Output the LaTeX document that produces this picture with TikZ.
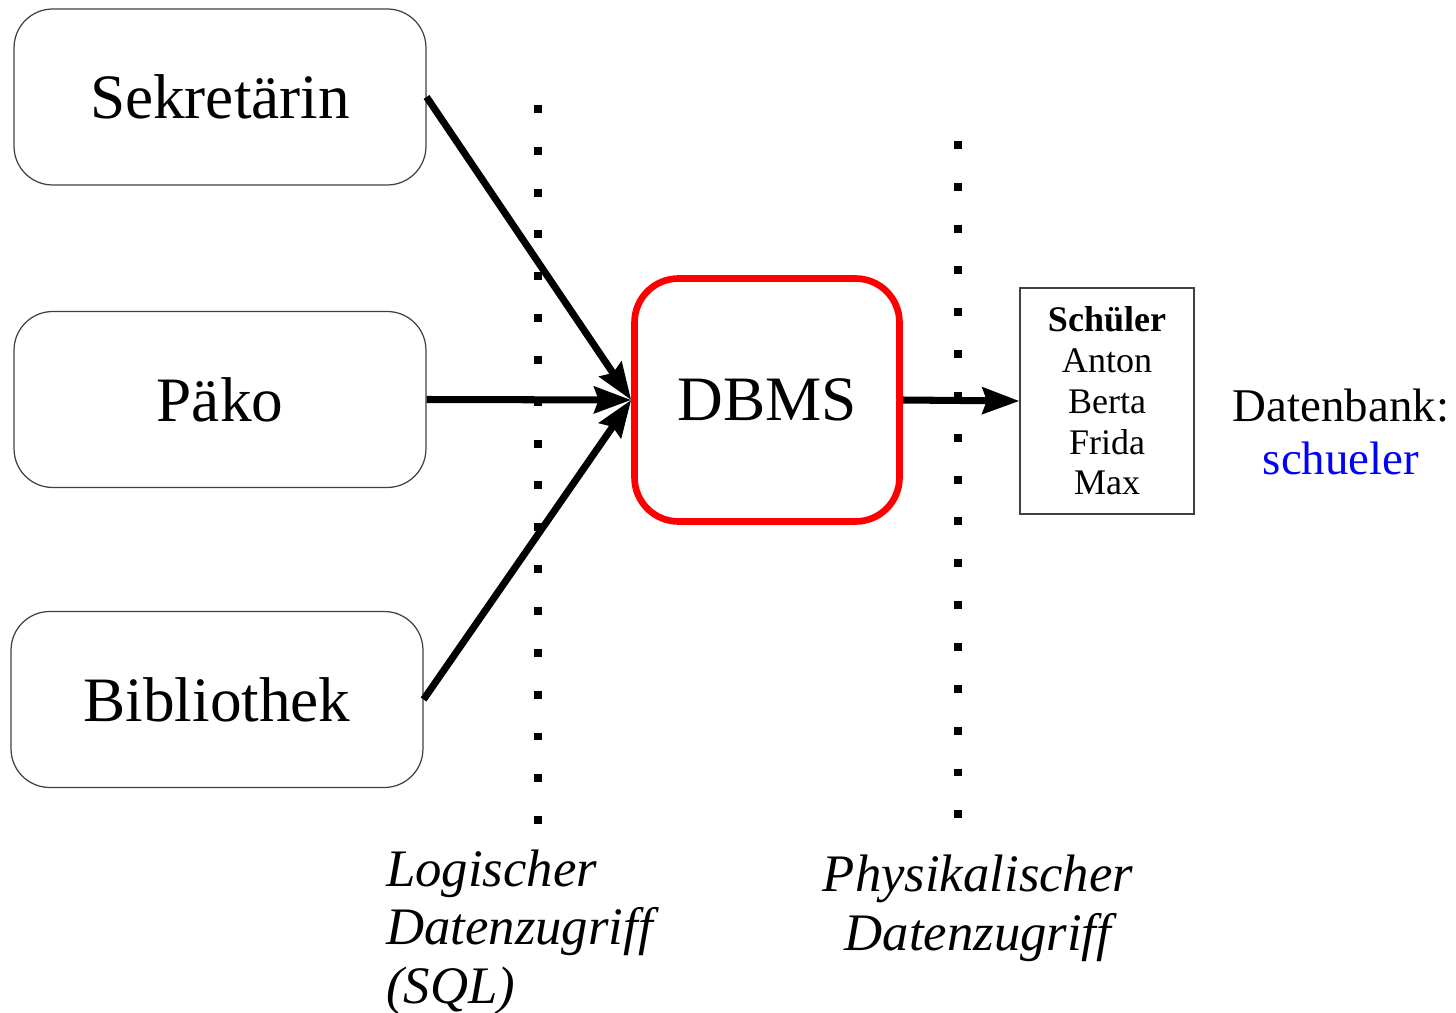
\documentclass[tikz,border=0pt]{standalone}
\usepackage{fontspec}
\setmainfont{Liberation Serif}
\usetikzlibrary{arrows.meta}
\begin{document}
\begin{tikzpicture}[x=0.02cm,y=-0.02cm,
	>={Stealth[length=21pt,width=15pt,inset=2.5pt]},
	rolle/.style={draw=black!75,line width=0.7pt,rounded corners=22pt,minimum width=8.24cm,minimum height=3.52cm,font=\fontsize{36}{40}\selectfont},
	dbmsbox/.style={draw=red,line width=3.8pt,rounded corners=25pt,minimum width=5.3cm,minimum height=4.86cm,font=\fontsize{36}{40}\selectfont},
	tabelle/.style={draw=black!75,line width=0.7pt,minimum width=3.48cm,minimum height=4.52cm,align=center,font=\fontsize{20.5}{23.2}\selectfont},
	zugriff/.style={line width=4.5pt,dash pattern=on 4.54pt off 19.27pt},
	pfeil/.style={->,line width=4pt},
	beschr/.style={font=\fontsize{30}{33.2}\selectfont\itshape}]
	\useasboundingbox (0,0) rectangle (1456,1013);
	\node[rolle] (sek) at (220,97) {Sekretärin};
	\node[rolle] (paeko) at (220,399.5) {Päko};
	\node[rolle] (bib) at (217,699.5) {Bibliothek};
	\node[dbmsbox] (dbms) at (767,400) {DBMS};
	\node[tabelle] (tab) at (1107,401) {\textbf{Schüler}\\Anton\\Berta\\Frida\\Max};
	\node[align=center,font=\fontsize{26.7}{30}\selectfont] (db) at (1341,432) {Datenbank:\\\textcolor{blue}{schueler}};
	\coordinate (log oben) at (538,105);
	\coordinate (log unten) at (538,829);
	\coordinate (phys oben) at (958,141);
	\coordinate (phys unten) at (958,822);
	\draw[zugriff] (log oben) -- (log unten);
	\draw[zugriff] (phys oben) -- (phys unten);
	\draw[pfeil] (sek.east) -- (dbms.west);
	\draw[pfeil] (paeko.east) -- (dbms.west);
	\draw[pfeil] (bib.east) -- (dbms.west);
	\draw[pfeil] (dbms.east) -- (tab.west);
	\node[beschr,anchor=base west,align=left] (logisch) at (380,1003) {Logischer\\Datenzugriff\\(SQL)};
	\node[beschr,anchor=base,align=center] (physisch) at (978,950) {Physikalischer\\Datenzugriff};
\end{tikzpicture}
\end{document}
